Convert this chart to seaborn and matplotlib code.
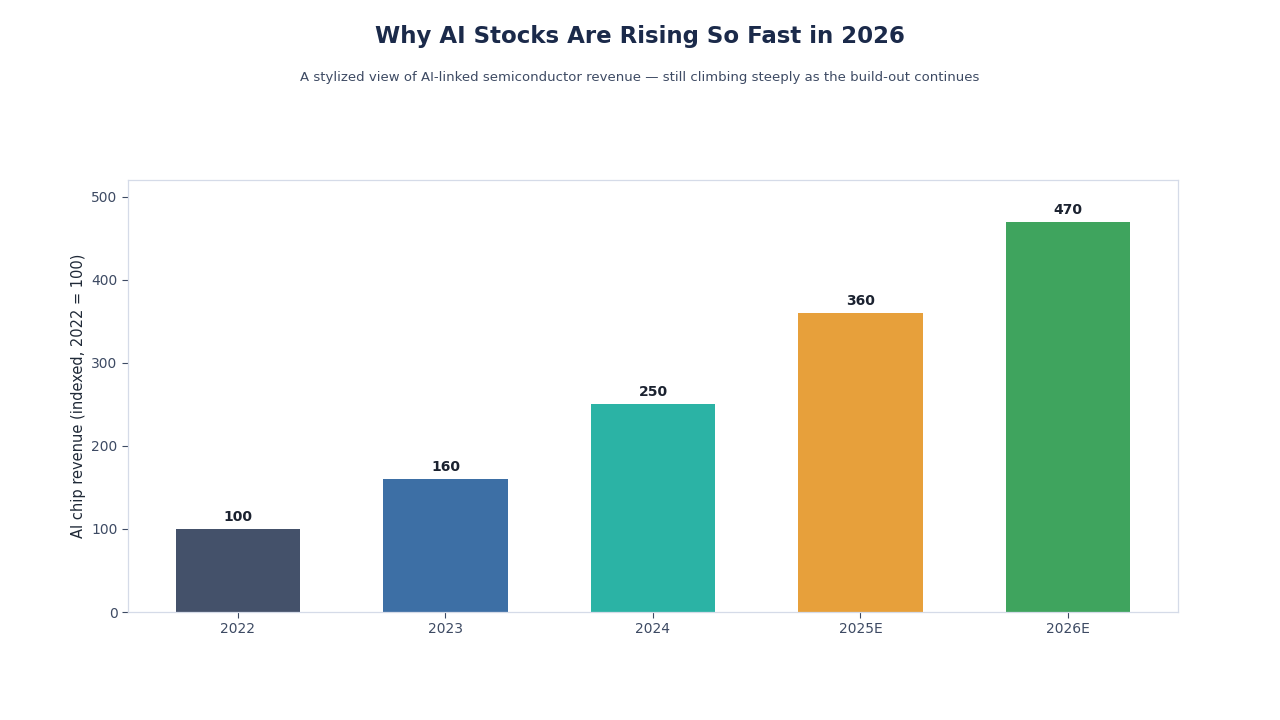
import matplotlib
matplotlib.use("Agg")
import matplotlib.pyplot as plt
import seaborn as sns
import pandas as pd

years = ["2022", "2023", "2024", "2025E", "2026E"]
values = [100, 160, 250, 360, 470]
colors = ["#44516a", "#3d6fa5", "#2bb3a5", "#e7a03b", "#3fa45e"]

sns.set_theme(style="white")
plt.rcParams['font.family'] = ['DejaVu Sans']

df = pd.DataFrame({"year": years, "value": values})

fig = plt.figure(figsize=(12.8, 7.2), dpi=100)
ax = fig.add_axes([0.1, 0.15, 0.8203, 0.60])
sns.barplot(data=df, x="year", y="value", hue="year", palette=colors,
            width=0.6, legend=False, ax=ax, saturation=1, linewidth=0, edgecolor="none")

ax.set_ylim(0, 520)
ax.set_xlim(-0.53, 4.53)
ax.set_yticks([0, 100, 200, 300, 400, 500])
ax.set_xlabel("")
ax.set_ylabel("AI chip revenue (indexed, 2022 = 100)", fontsize=10.5, color="#1f2937")
ax.tick_params(axis="both", labelsize=10, colors="#3d4a63", length=4, width=0.8,
               bottom=True, left=True, color="#3d4a63")
for s in ax.spines.values():
    s.set_color("#d5dbe8")
    s.set_linewidth(0.9)

for i, v in enumerate(values):
    ax.annotate(f"{v}", (i, v), xytext=(0, 3.5), textcoords="offset points",
                ha="center", va="bottom", fontsize=10, fontweight="bold", color="#1b2230")

fig.text(0.5, 0.95, "Why AI Stocks Are Rising So Fast in 2026", ha="center", va="center",
         fontsize=16.5, fontweight="bold", color="#1b2a4a")
fig.text(0.5, 0.893, "A stylized view of AI-linked semiconductor revenue — still climbing steeply as the build-out continues",
         ha="center", va="center", fontsize=9.55, color="#3d4a63")

fig.savefig("out.png", dpi=100)
